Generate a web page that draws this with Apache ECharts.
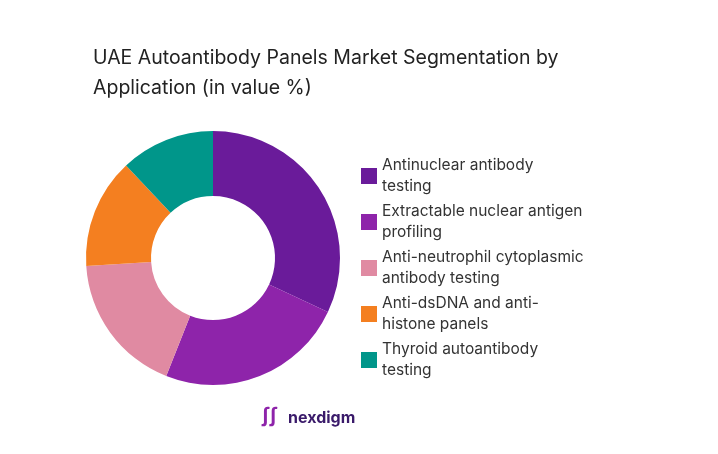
<!DOCTYPE html>
<html>
<head>
<meta charset="utf-8">
<script src="https://cdn.jsdelivr.net/npm/echarts@6/dist/echarts.min.js"></script>
<style>html,body{margin:0;padding:0;background:#fff}#main{width:718px;height:454px}</style>
</head>
<body>
<div id="main"></div>
<script>
var categories = ['Antinuclear antibody\ntesting', 'Extractable nuclear antigen\nprofiling', 'Anti-neutrophil cytoplasmic\nantibody testing', 'Anti-dsDNA and anti-\nhistone panels', 'Thyroid autoantibody\ntesting'];
var values = [32, 24, 18, 14, 12];
var colors = ['#6A1B9A', '#8E24AA', '#E08AA2', '#F47F20', '#00968A'];

var chart = echarts.init(document.getElementById('main'));
chart.setOption({
    color: colors,
    title: {
        text: 'UAE Autoantibody Panels Market Segmentation by\nApplication (in value %)',
        left: 88, top: 38,
        textStyle: {fontFamily: 'Inter', fontWeight: 'normal', fontSize: 19.5, color: '#222', lineHeight: 30}
    },
    legend: {
        orient: 'vertical', left: 356, top: 150,
        itemWidth: 16, itemHeight: 16, itemGap: 4,
        icon: 'rect',
        textStyle: {fontFamily: 'Inter', fontSize: 15.5, color: '#333', lineHeight: 21}
    },
    graphic: [{
        type: 'text', left: 288, top: 410,
        style: {text: 'nexdigm', fontFamily: 'Inter', fontSize: 16, fontWeight: 'bold', fill: '#3a1a6a'}
    }, {
        type: 'text', left: 262, top: 406,
        style: {text: 'ʃʃ', fontFamily: 'Inter', fontSize: 20, fontWeight: 'bold', fill: '#8E24AA'}
    }],
    series: [{
        type: 'pie',
        center: [213, 258],
        radius: [62, 127],
        startAngle: 90,
        label: {show: false},
        labelLine: {show: false},
        data: categories.map(function (c, i) { return {name: c, value: values[i]}; })
    }]
});
</script>
</body>
</html>
